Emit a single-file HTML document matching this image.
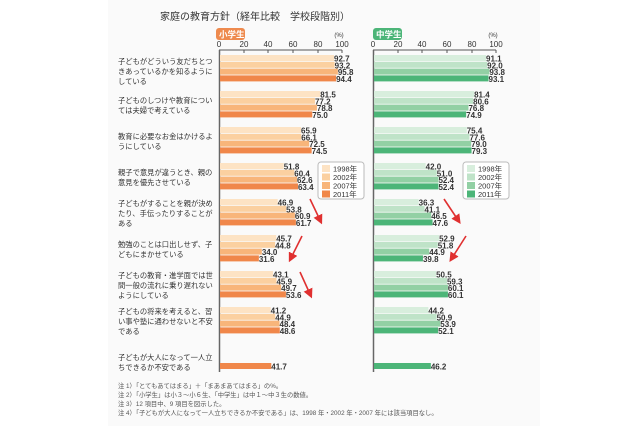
<!DOCTYPE html>
<html><head><meta charset="utf-8"><style>
body{margin:0;width:640px;height:426px;background:#fff;overflow:hidden}
svg{display:block}
text{font-family:"Liberation Sans","Noto Sans CJK JP",sans-serif}
</style></head><body>
<svg width="640" height="426" viewBox="0 0 640 426">
<rect x="108" y="0" width="432" height="426" fill="#fafafa"/>
<text x="160" y="20" font-size="10" fill="#333">家庭の教育方針（経年比較　学校段階別）</text>
<rect x="216" y="28" width="29" height="12" rx="3" fill="#ee8a4e"/>
<text x="219" y="37.5" font-size="8.5" fill="#fff" font-weight="bold">小学生</text>
<rect x="373" y="28" width="29" height="12" rx="3" fill="#4cb578"/>
<text x="376" y="37.5" font-size="8.5" fill="#fff" font-weight="bold">中学生</text>
<g font-size="8" fill="#333" text-anchor="middle">
<text x="219" y="47">0</text><text x="244" y="47">20</text><text x="268" y="47">40</text><text x="293" y="47">60</text><text x="318" y="47">80</text><text x="342" y="47">100</text><text x="339" y="37" font-size="6">(%)</text>
<text x="373" y="47">0</text><text x="398" y="47">20</text><text x="422" y="47">40</text><text x="447" y="47">60</text><text x="472" y="47">80</text><text x="496" y="47">100</text><text x="493" y="37" font-size="6">(%)</text>
</g>
<g stroke="#555" stroke-width="1">
<line x1="219" y1="50" x2="342" y2="50"/><line x1="373" y1="50" x2="496" y2="50"/>
<line x1="244" y1="50" x2="244" y2="53"/><line x1="268" y1="50" x2="268" y2="53"/><line x1="293" y1="50" x2="293" y2="53"/><line x1="318" y1="50" x2="318" y2="53"/><line x1="342" y1="50" x2="342" y2="53"/>
<line x1="398" y1="50" x2="398" y2="53"/><line x1="422" y1="50" x2="422" y2="53"/><line x1="447" y1="50" x2="447" y2="53"/><line x1="472" y1="50" x2="472" y2="53"/><line x1="496" y1="50" x2="496" y2="53"/>
</g>
<line x1="219.5" y1="50" x2="219.5" y2="372" stroke="#666" stroke-width="1.5"/>
<line x1="373.5" y1="50" x2="373.5" y2="372" stroke="#666" stroke-width="1.5"/>
<g id="bars"></g>
<g font-size="7.3" fill="#333">
<text x="118" y="64">子どもがどういう友だちとつ</text><text x="118" y="74">きあっているかを知るように</text><text x="118" y="84">している</text>
<text x="118" y="103">子どものしつけや教育につい</text><text x="118" y="113">ては夫婦で考えている</text>
<text x="118" y="139">教育に必要なお金はかけるよ</text><text x="118" y="149">うにしている</text>
<text x="118" y="175">親子で意見が違うとき、親の</text><text x="118" y="185">意見を優先させている</text>
<text x="118" y="206">子どもがすることを親が決め</text><text x="118" y="216">たり、手伝ったりすることが</text><text x="118" y="226">ある</text>
<text x="118" y="247">勉強のことは口出しせず、子</text><text x="118" y="257">どもにまかせている</text>
<text x="118" y="278">子どもの教育・進学面では世</text><text x="118" y="288">間一般の流れに乗り遅れない</text><text x="118" y="298">ようにしている</text>
<text x="118" y="314">子どもの将来を考えると、習</text><text x="118" y="324">い事や塾に通わせないと不安</text><text x="118" y="334">である</text>
<text x="118" y="360">子どもが大人になって一人立</text><text x="118" y="370">ちできるか不安である</text>
</g>
<g font-size="6.3" fill="#555">
<text x="118" y="388">注 1）「とてもあてはまる」＋「まあまあてはまる」の%。</text>
<text x="118" y="397">注 2）「小学生」は小３～小６生、「中学生」は中１～中３生の数値。</text>
<text x="118" y="406">注 3）12 項目中、9 項目を図示した。</text>
<text x="118" y="415">注 4）「子どもが大人になって一人立ちできるか不安である」は、1998 年・2002 年・2007 年には該当項目なし。</text>
</g>
<g font-size="7.5" fill="#333">
<rect x="318" y="162" width="46" height="37" rx="3" fill="#fff" stroke="#bbb"/>
<rect x="322" y="165" width="8" height="7" fill="#fde3c4"/><text x="333" y="171.5">1998年</text>
<rect x="322" y="173.5" width="8" height="7" fill="#fbd0a0"/><text x="333" y="180">2002年</text>
<rect x="322" y="182" width="8" height="7" fill="#f8b57a"/><text x="333" y="188.5">2007年</text>
<rect x="322" y="190.5" width="8" height="7" fill="#f0874a"/><text x="333" y="197">2011年</text>
<rect x="463" y="162" width="46" height="37" rx="3" fill="#fff" stroke="#bbb"/>
<rect x="467" y="165" width="8" height="7" fill="#d8eedd"/><text x="478" y="171.5">1998年</text>
<rect x="467" y="173.5" width="8" height="7" fill="#bfe3c8"/><text x="478" y="180">2002年</text>
<rect x="467" y="182" width="8" height="7" fill="#92d0a4"/><text x="478" y="188.5">2007年</text>
<rect x="467" y="190.5" width="8" height="7" fill="#4cb578"/><text x="478" y="197">2011年</text>
</g>
<defs><marker id="ah" markerWidth="6" markerHeight="6" refX="3" refY="3" orient="auto"><path d="M0,0 L6,3 L0,6 z" fill="#e03030"/></marker></defs>
<g stroke="#e03030" stroke-width="1.6" marker-end="url(#ah)">
<line x1="310" y1="199" x2="320" y2="220"/>
<line x1="302" y1="236" x2="291" y2="258"/>
<line x1="300" y1="272" x2="310" y2="294"/>
<line x1="444" y1="199" x2="458" y2="220"/>
<line x1="466" y1="236" x2="452" y2="258"/>
</g>
</svg>
<script>
const L=[[92.7,93.2,95.8,94.4],[81.5,77.2,78.8,75.0],[65.9,66.1,72.5,74.5],[51.8,60.4,62.6,63.4],[46.9,53.8,60.9,61.7],[45.7,44.8,34.0,31.6],[43.1,45.9,49.7,53.6],[41.2,44.9,48.4,48.6],[null,null,null,41.7]];
const R=[[91.1,92.0,93.8,93.1],[81.4,80.6,76.8,74.9],[75.4,77.6,79.0,79.3],[42.0,51.0,52.4,52.4],[36.3,41.1,46.5,47.6],[52.9,51.8,44.9,39.8],[50.5,59.3,60.1,60.1],[44.2,50.9,53.9,52.1],[null,null,null,46.2]];
const tops=[55,91,127,163,199,235,271,307,363];
const lc=["#fde3c4","#fbd0a0","#f8b57a","#f0874a"],rc=["#d8eedd","#bfe3c8","#92d0a4","#4cb578"];
let s="";
function draw(D,x0,c){D.forEach((g,i)=>g.forEach((v,j)=>{if(v==null)return;let y=tops[i]+(i==8?0:j*6.8);let w=v*1.23;
s+=`<rect x="${x0+1}" y="${y}" width="${w}" height="6" fill="${c[j]}"/>`;
s+=`<text x="${x0+w+1}" y="${y+6.5}" font-size="8" font-weight="bold" fill="#333">${v.toFixed(1)}</text>`;}));}
draw(L,219,lc);draw(R,373,rc);
document.getElementById("bars").innerHTML=s;
</script>
</body></html>
